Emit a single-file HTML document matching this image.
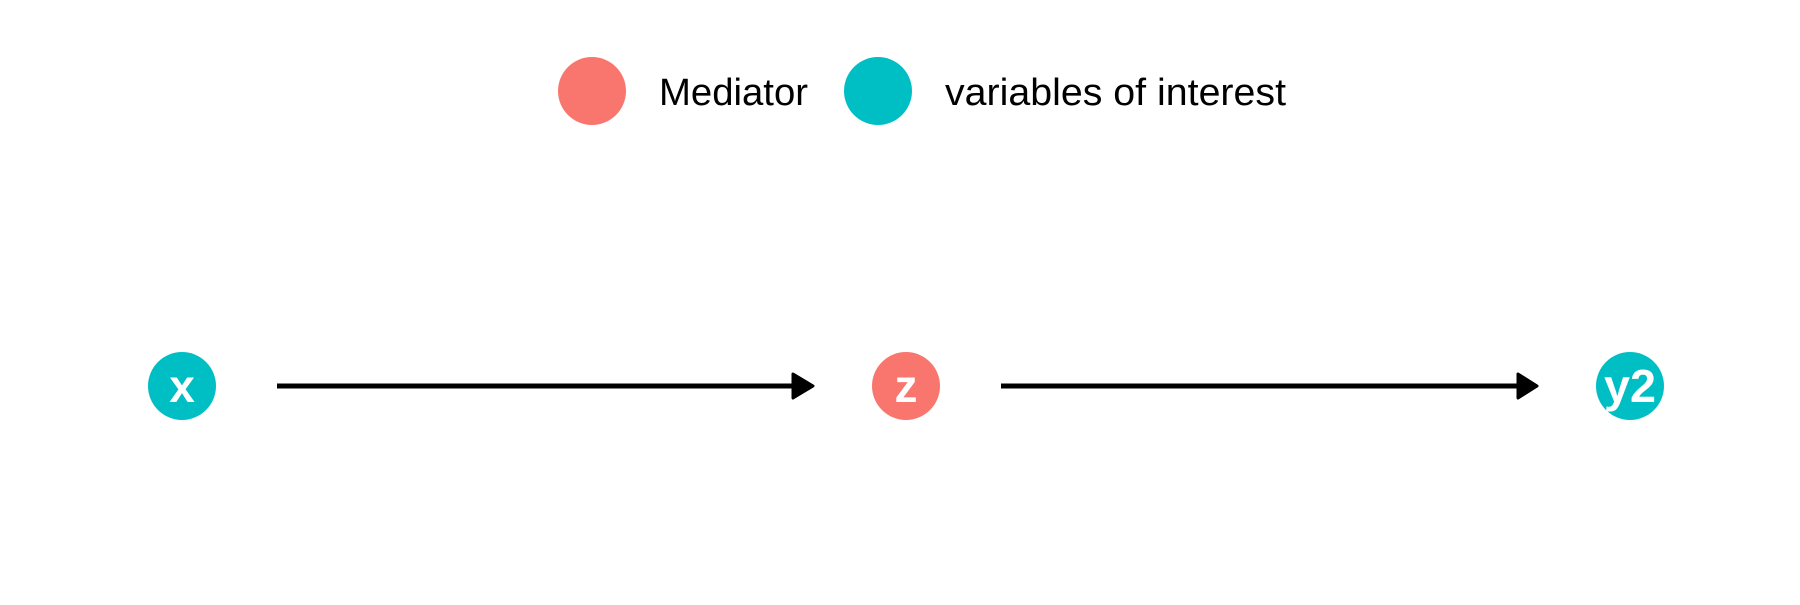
<!DOCTYPE html>
<html><head><style>body{margin:0;background:#fff}</style></head><body>
<svg width="1800" height="600" xmlns="http://www.w3.org/2000/svg" font-family="Liberation Sans, sans-serif">
<rect width="1800" height="600" fill="#fff"/>
<circle cx="592" cy="91" r="34" fill="#F8766D"/>
<text x="659" y="105" font-size="38" fill="#000" textLength="149" lengthAdjust="spacingAndGlyphs">Mediator</text>
<circle cx="878" cy="91" r="34" fill="#00BFC4"/>
<text x="945" y="105" font-size="38" fill="#000" textLength="341" lengthAdjust="spacingAndGlyphs">variables of interest</text>
<line x1="277" y1="386" x2="796" y2="386" stroke="#000" stroke-width="5"/>
<polygon points="793,374 813,386 793,398" fill="#000" stroke="#000" stroke-width="3" stroke-linejoin="round"/>
<line x1="1001" y1="386" x2="1520" y2="386" stroke="#000" stroke-width="5"/>
<polygon points="1518,374 1537,386 1518,398" fill="#000" stroke="#000" stroke-width="3" stroke-linejoin="round"/>
<circle cx="182" cy="386" r="34" fill="#00BFC4"/>
<text x="182" y="402" font-size="46" font-weight="bold" fill="#fff" text-anchor="middle">x</text>
<circle cx="906" cy="386" r="34" fill="#F8766D"/>
<text x="906" y="402" font-size="46" font-weight="bold" fill="#fff" text-anchor="middle">z</text>
<circle cx="1630" cy="386" r="34" fill="#00BFC4"/>
<text x="1630" y="402" font-size="46" font-weight="bold" fill="#fff" text-anchor="middle" textLength="52" lengthAdjust="spacingAndGlyphs">y2</text>
</svg>
</body></html>
